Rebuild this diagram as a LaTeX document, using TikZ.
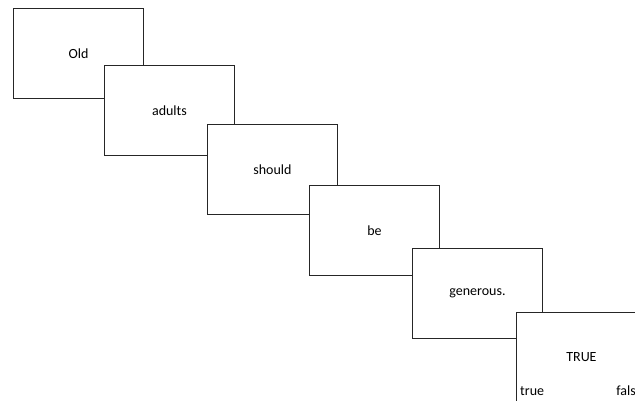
\documentclass[tikz,border=0pt]{standalone}
\usepackage{fontspec}
\setmainfont{Carlito}
\begin{document}
\begin{tikzpicture}[x=1pt,y=-1pt,
  card/.style={draw=black!85,line width=0.9pt,fill=white,anchor=north west,
    minimum width=130pt,minimum height=90pt,inner sep=0pt,font=\fontsize{14}{16}\selectfont},
  lbl/.style={inner sep=0pt,font=\fontsize{14}{16}\selectfont}]
\useasboundingbox (0,0) rectangle (635,401);
\clip (0,0) rectangle (635,401);
\node[card] (c1) at (13,8) {Old};
\node[card] (c2) at (104,65) {adults};
\node[card] (c3) at (207,124) {should};
\node[card] (c4) at (309,185) {be};
\node[card] (c5) at (412,248) {generous.};
\node[card] (c6) at (516,312) {TRUE};
\node[lbl,anchor=base west] (t) at ([xshift=4pt,yshift=7pt]c6.south west) {true};
\node[lbl,anchor=base east] (f) at ([xshift=-4pt,yshift=7pt]c6.south east) {false};
\end{tikzpicture}
\end{document}
